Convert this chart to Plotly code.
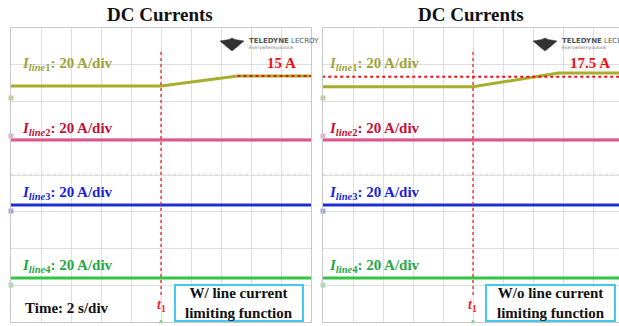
import plotly.graph_objects as go

W, H = 619, 326
SERIF = "Liberation Serif, Times New Roman, serif"

# ---------------- data ----------------
time_div = 2.0            # s/div
amp_div = 20.0            # A/div
# Line 1 (olive) : displayed level before/after the step (A on screen, 20 A/div)
t1 = 10.0                 # s, event instant
line1_t_left = [0.0, 10.0, 15.1, 20.0]
line1_y_left = [128.4, 128.4, 133.9, 133.9]
line1_t_right = [0.0, 10.0, 15.7, 20.0]
line1_y_right = [128.0, 128.0, 135.5, 135.5]
limit_level = 133.9       # 15 A reference level
line2_level = 99.0
line3_level = 63.7
line4_level = 23.9
ground_markers = [121.9, 101.2, 60.4, 20.1]
channel_labels = ["1", "2", "3", "4"]
panel_notes = ["W/ line current<br>limiting function", "W/o line current<br>limiting function"]
final_labels = ["15 A", "17.5 A"]

c_line = ["#a6ae2c", "#e0538c", "#1f2fcf", "#33c443"]
c_text = ["#9ea23a", "#c41038", "#1a1fe0", "#1fa844"]
c_mark = ["#c9cf8a", "#f0a8c8", "#9aa6e8", "#a8e0b0"]

fig = go.Figure()

x_dom = [[11 / W, 311 / W], [323 / W, 1.0]]
y_dom = [4 / H, 298 / H]
x_rng = [[0, 20], [0, 20 * 296 / 300]]

def px(x):
    return x / W

def py(y):
    return 1 - y / H

for p in range(2):
    xa = "x" if p == 0 else "x2"
    ya = "y" if p == 0 else "y2"
    tt = line1_t_left if p == 0 else line1_t_right
    yy = line1_y_left if p == 0 else line1_y_right
    fig.add_trace(go.Scatter(x=tt, y=yy, mode="lines", line=dict(color=c_line[0], width=3),
                             xaxis=xa, yaxis=ya, showlegend=False, hoverinfo="skip"))
    for k, lev in enumerate([line2_level, line3_level, line4_level]):
        fig.add_trace(go.Scatter(x=[0, 20], y=[lev, lev], mode="lines",
                                 line=dict(color=c_line[k + 1], width=3),
                                 xaxis=xa, yaxis=ya, showlegend=False, hoverinfo="skip"))
    # ground markers
    fig.add_trace(go.Scatter(x=[0.0] * 4, y=ground_markers, mode="markers",
                             marker=dict(symbol="square", size=5, color=c_mark),
                             cliponaxis=False, xaxis=xa, yaxis=ya, showlegend=False, hoverinfo="skip"))
    # t1 marker line
    fig.add_trace(go.Scatter(x=[t1, t1], y=[146.9, 14.0], mode="lines",
                             line=dict(color="#e8262a", width=1.3, dash="dot"),
                             xaxis=xa, yaxis=ya, showlegend=False, hoverinfo="skip"))
    # limit reference line
    if p == 0:
        fig.add_trace(go.Scatter(x=[15.1, 20.0], y=[limit_level, limit_level], mode="lines",
                                 line=dict(color="#f01010", width=2, dash="dot"), cliponaxis=False,
                                 xaxis=xa, yaxis=ya, showlegend=False, hoverinfo="skip"))
    else:
        fig.add_trace(go.Scatter(x=[-0.45, 20.0], y=[limit_level - 0.4, limit_level - 0.4], mode="lines",
                                 line=dict(color="#f01010", width=2, dash="dot"), cliponaxis=False,
                                 xaxis=xa, yaxis=ya, showlegend=False, hoverinfo="skip"))
    # trigger mark at bottom
    fig.add_trace(go.Scatter(x=[t1], y=[0], mode="markers", marker=dict(symbol="triangle-up", size=5, color="#6fcf6f"),
                             cliponaxis=False, xaxis=xa, yaxis=ya, showlegend=False, hoverinfo="skip"))

axis_common = dict(showgrid=True, gridcolor="#dedede", gridwidth=1, zeroline=False,
                   showticklabels=False, ticks="", linecolor="#c8c8c8", linewidth=1, showline=True)
fig.update_layout(
    xaxis=dict(domain=x_dom[0], range=x_rng[0], dtick=time_div, mirror=True, **axis_common),
    yaxis=dict(domain=y_dom, range=[0, 160], dtick=amp_div, mirror=True, **axis_common),
    xaxis2=dict(domain=x_dom[1], range=x_rng[1], dtick=time_div, mirror=True, anchor="y2", **axis_common),
    yaxis2=dict(domain=y_dom, range=[0, 160], dtick=amp_div, mirror=False, anchor="x2", **axis_common),
)

shapes = []
ann = []

def text(t, x, y, size, color, family=SERIF, xanchor="center"):
    ann.append(dict(text=t, x=px(x), y=py(y), xref="paper", yref="paper", xanchor=xanchor,
                    yanchor="middle", showarrow=False, font=dict(family=family, size=size, color=color)))

label_y = [64, 129, 193, 266]
panel_left = [20, 327]
centers = [161, 472]
for p in range(2):
    xr = "x" if p == 0 else "x2"
    yr = "y" if p == 0 else "y2"
    # center dashed horizontal
    shapes.append(dict(type="line", xref=xr, yref=yr, x0=0, x1=20, y0=80, y1=80,
                       line=dict(color="#bdbdbd", width=1, dash="dot"), layer="below"))
    text("<b>DC Currents</b>", centers[p] - 1, 15, 19, "#111111")
    for k in range(4):
        text("<b><i>I</i><sub><i>line</i>%s</sub>: 20 A/div</b>" % channel_labels[k],
             panel_left[p], label_y[k], 15, c_text[k], xanchor="left")
    text("<b>%s</b>" % final_labels[p], 281 if p == 0 else 590, 63, 15, "#f01010")
    text("<b><i>t</i><sub>1</sub></b>", centers[p], 305, 14, "#e8262a")
    bx0 = 175 if p == 0 else 486
    bx1 = 303 if p == 0 else 615
    shapes.append(dict(type="rect", xref="paper", yref="paper", x0=px(bx0), x1=px(bx1), y0=py(321), y1=py(285),
                       line=dict(color="#45c8f0", width=2), fillcolor="white", layer="above"))
    text("<b>%s</b>" % panel_notes[p], (bx0 + bx1) / 2, 303, 15, "#111111")
    # logo
    lx = 220 if p == 0 else 533
    text("<b>TELEDYNE</b> LECROY", lx + 27, 41, 7, "#555555", family="DejaVu Sans", xanchor="left")
    text("Everywhereyoulook", lx + 27, 47.5, 4.5, "#777777", family="DejaVu Sans", xanchor="left")
    cx, cy = lx + 12, 41
    path = ("M %f,%f L %f,%f L %f,%f L %f,%f L %f,%f L %f,%f L %f,%f L %f,%f Z" % (
        px(cx - 12), py(cy), px(cx - 3), py(cy - 1.5), px(cx), py(cy - 3), px(cx + 3), py(cy - 1.5),
        px(cx + 12), py(cy), px(cx + 5), py(cy + 6), px(cx), py(cy + 10), px(cx - 5), py(cy + 6)))
    shapes.append(dict(type="path", xref="paper", yref="paper", path=path, fillcolor="#333333",
                       line=dict(color="#333333", width=0.5)))

text("<b>Time: 2 s/div</b>", 67, 308, 15, "#111111")

fig.update_layout(width=W, height=H, margin=dict(l=0, r=0, t=0, b=0),
                  paper_bgcolor="white", plot_bgcolor="white",
                  shapes=shapes, annotations=ann, showlegend=False)

fig.write_html("out.html", config={"displayModeBar": False},
               post_script="document.body.style.margin='0px';document.body.style.overflow='hidden';")
